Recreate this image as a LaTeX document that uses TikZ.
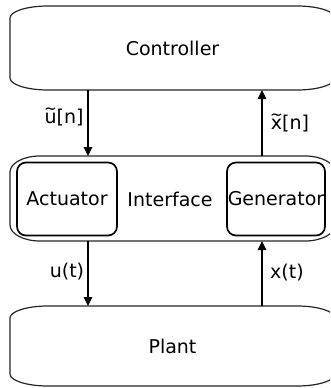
\documentclass[tikz,border=0pt]{standalone}
\usepackage{fontspec}
\usepackage{graphicx}
\setmainfont{DejaVu Sans}
\usetikzlibrary{arrows.meta,calc}
\newcommand\elbox[3]{%
  \draw[outerline]
    ($(#1.north west)+(0,#3)$) .. controls ($(#1.north west)+(0,0.448*#3)$) and ($(#1.north west)+(0.448*#2,0)$) .. ($(#1.north west)+(#2,0)$)
    -- ($(#1.north east)+(-#2,0)$) .. controls ($(#1.north east)+(-0.448*#2,0)$) and ($(#1.north east)+(0,0.448*#3)$) .. ($(#1.north east)+(0,#3)$)
    -- ($(#1.south east)+(0,-#3)$) .. controls ($(#1.south east)+(0,-0.448*#3)$) and ($(#1.south east)+(-0.448*#2,0)$) .. ($(#1.south east)+(-#2,0)$)
    -- ($(#1.south west)+(#2,0)$) .. controls ($(#1.south west)+(0.448*#2,0)$) and ($(#1.south west)+(0,-0.448*#3)$) .. ($(#1.south west)+(0,-#3)$)
    -- cycle;}
\newcommand\tl[1]{\setbox0\hbox{#1}\rlap{\hbox to\wd0{\hss\raisebox{0.47em}{\scalebox{0.8}[0.9]{\textasciitilde}}\hss}}#1}
\tikzset{
  big/.style={inner sep=0pt, outer sep=0pt, font=\fontsize{19}{23}\selectfont},
  outerline/.style={line width=1.2pt, draw=black!85},
  innerbox/.style={big, draw=black, line width=1.7pt, rounded corners=9pt},
  lbl/.style={font=\fontsize{19}{23}\selectfont, inner sep=0pt},
  arr/.style={line width=1.2pt, draw=black, -{Triangle[length=9pt,width=8.5pt]}},
}
\begin{document}
\begin{tikzpicture}[x=1pt,y=-1pt]
\useasboundingbox (0,0) rectangle (330,388);
\clip (0,0) rectangle (330,388);
\fill[white] (0,0) rectangle (330,388);
\node[big, minimum width=325pt, minimum height=84pt] (controller) at (172.5,48) {Controller};
\node[big, minimum width=325pt, minimum height=85pt] (interface) at (172.5,198.5) {};
\node[big] (interfacetext) at (170,199) {Interface};
\node[big, minimum width=325pt, minimum height=80pt] (plant) at (172.5,346) {Plant};
\elbox{controller}{38}{12}
\elbox{interface}{30}{16}
\elbox{plant}{38}{12}
\node[innerbox, minimum width=100pt, minimum height=73pt] (actuator) at (67,199) {Actuator};
\node[innerbox, minimum width=98pt, minimum height=73pt] (generator) at (276,199) {Generator};
\coordinate (ua) at (88,0);
\coordinate (xa) at (262,0);
\draw[arr] (controller.south -| ua) -- (interface.north -| ua);
\draw[arr] (interface.north -| xa) -- (controller.south -| xa);
\draw[arr] (interface.south -| ua) -- (plant.north -| ua);
\draw[arr] (plant.north -| xa) -- (interface.south -| xa);
\node[lbl] (un) at (64,117) {\tl{u}[n]};
\node[lbl] (xn) at (290,123) {\tl{x}[n]};
\node[lbl] (ut) at (67,272) {u(t)};
\node[lbl] (xt) at (287,273) {x(t)};
\end{tikzpicture}
\end{document}
